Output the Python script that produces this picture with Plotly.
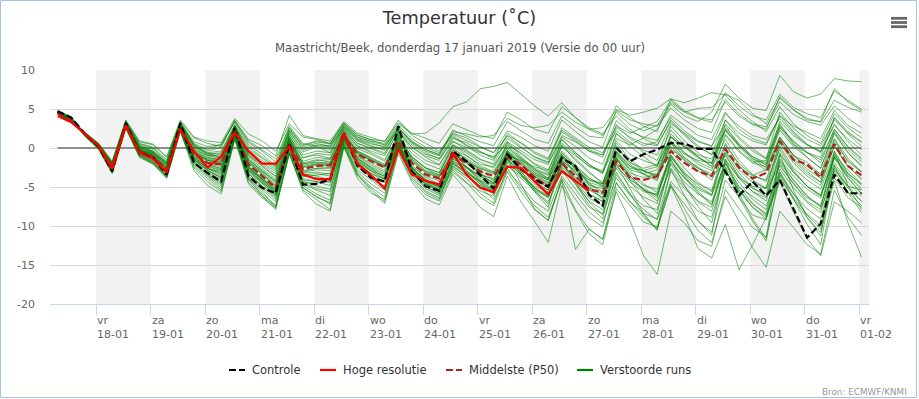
import plotly.graph_objects as go
import pandas as pd

# ---------------- data ----------------
start_time = "2019-01-17 07:00"   # first forecast step (local time)
step = "6h"

controle = [4.7, 3.9, 1.8, 0.2, -3.0, 3.2, -0.6, -1.3, -3.4, 3.2, -1.9, -3.2,
            -4.3, 2.6, -3.6, -5.1, -5.8, 0.5, -4.7, -4.6, -4.0, 2.0, -2.3, -3.8,
            -4.3, 2.8, -3.0, -4.9, -5.5, -0.4, -1.7, -3.4, -5.2, -0.8, -2.7, -4.0,
            -5.0, -1.3, -2.3, -6.0, -7.4, 0.0, -1.7, -0.8, -0.2, 0.65, 0.55, -0.1,
            -0.1, -3.0, -6.1, -4.3, -6.1, -4.1, -7.8, -11.5, -9.7, -3.4, -5.8, -5.8]

hoge_resolutie = [4.1, 3.3, 1.8, 0.3, -2.7, 2.9, -0.6, -1.4, -3.1, 2.4, -0.4, -2.5,
                  -1.1, 2.0, -0.4, -2.0, -2.0, 0.2, -3.4, -4.0, -4.0, 1.9, -2.0, -3.5,
                  -5.2, -0.1, -3.4, -4.2, -4.7, -0.6, -3.4, -5.1, -5.65, -2.4, -2.55, -4.25,
                  -5.95, -2.95, -4.25, -5.5]

middelste = [4.5, 3.6, 1.8, 0.2, -2.3, 2.9, -0.4, -1.1, -2.8, 2.6, -0.8, -1.9,
             -2.1, 1.9, -2.1, -3.6, -5.1, 0.6, -2.7, -2.3, -2.2, 1.5, -0.8, -1.7,
             -2.5, 0.9, -1.9, -3.4, -3.9, -1.0, -1.9, -3.0, -3.6, -1.2, -2.1, -3.8,
             -4.9, -1.9, -3.6, -5.3, -5.7, -1.7, -3.8, -4.1, -3.6, -0.4, -1.9, -3.0,
             -3.6, -0.1, -2.5, -3.9, -3.2, 0.9, -1.5, -2.1, -3.8, 0.5, -2.3, -3.5]

verstoorde_runs = [
    [4.6,3.8,1.7,0.3, -2.9,3.1,-0.3,-1.0, -3.1,3.0,-1.2,-2.6, -3.5,2.4,-2.9,-4.4, -5.6,0.9,-3.6,-3.5, -3.2,1.8,-1.6,-2.9, -3.6,1.9,-2.5,-4.2, -4.9,-0.3,-1.5,-2.8, -4.1,-0.5,-2.2,-3.6, -4.5,-1.0,-2.4,-4.6, -5.8,-0.9,-2.6,-2.9, -2.4,0.8,-0.6,-1.8, -2.6,-0.9,-3.8,-4.9, -5.2,-2.3,-4.6,-6.8, -7.9,-2.8,-4.9,-5.4],
    [4.4,3.5,1.9,0.4, -2.0,3.3,0.2,-0.6, -2.1,3.1,0.4,-0.7, -1.2,2.8,-0.9,-2.3, -3.6,1.6,-1.2,-0.9, -1.3,2.3,0.3,-0.4, -1.0,2.1,-0.3,-1.6, -2.2,0.8,0.1,-0.6, -1.1,1.6,0.7,-0.5, -1.3,2.1,0.9,-0.4, -1.2,3.0,1.2,0.3, 0.8,4.2,2.9,1.6, 1.1,4.6,2.4,1.2, 0.6,4.1,2.8,2.0, 1.2,4.8,2.9,1.9],
    [4.7,3.9,1.5,-0.2, -3.2,2.6,-0.9,-1.8, -3.7,2.3,-1.7,-3.4, -4.6,1.4,-3.8,-5.4, -6.9,-0.2,-4.8,-5.9, -6.7,0.6,-3.1,-4.6, -5.8,0.1,-3.6,-5.5, -6.4,-2.1,-3.3,-5.0, -6.6,-2.9,-4.8,-6.9, -8.1,-3.6,-5.9,-8.2, -9.6,-4.4,-6.8,-8.9, -10.3,-4.9,-7.2,-9.4, -10.8,-4.1,-6.3,-8.6, -9.2,-2.7,-5.1,-7.0, -8.3,-2.2,-4.9,-6.8],
    [4.3,3.4,2.0,0.6, -1.8,3.5,0.8,0.4, -1.2,3.4,1.3,0.6, 0.2,3.6,0.9,-0.3, -1.4,2.8,0.6,0.2, -0.6,2.9,1.4,0.9, 0.6,3.1,1.8,1.9, 3.2,5.3,5.9,7.6, 7.9,8.4,6.9,5.4, 4.1,5.8,3.9,2.4, 1.6,4.6,3.0,2.2, 2.9,5.8,4.6,3.8, 3.3,7.1,5.4,4.1, 3.6,6.9,5.2,4.4, 3.9,7.3,6.1,5.0],
    [4.5,3.7,1.6,0.0, -2.6,2.8,-0.6,-1.5, -3.3,2.4,-1.4,-2.9, -3.8,1.6,-2.8,-4.3, -6.0,0.3,-3.9,-4.4, -4.8,1.0,-2.0,-3.2, -4.4,0.4,-2.9,-4.6, -5.6,-2.6,-3.9,-5.8, -7.1,-2.6,-5.2,-7.4, -8.9,-4.2,-7.9,-10.4, -11.7,-5.6,-9.3,-13.8, -16.2,-8.1,-9.6,-11.9, -12.6,-5.3,-7.8,-10.2, -11.4,-3.9,-6.4,-8.5, -9.9,-3.0,-5.6,-7.4],
    [4.6,3.6,1.8,0.2, -2.4,3.0,-0.2,-0.8, -2.5,2.9,-0.3,-1.2, -1.6,2.5,-1.4,-2.8, -4.2,1.3,-2.1,-1.6, -1.5,2.1,-0.1,-0.8, -1.7,1.5,-1.2,-2.6, -3.1,-0.2,-1.0,-2.1, -2.4,0.4,-0.6,-2.0, -2.8,0.6,-0.8,-2.4, -3.1,1.2,0.4,1.3, 2.4,5.6,4.1,3.4, 4.6,8.2,6.4,5.1, 4.8,9.3,7.2,6.4, 6.9,8.9,8.6,8.5],
    [4.8,4.0,1.9,0.1, -3.1,2.7,-1.0,-1.9, -3.8,2.2,-2.2,-3.6, -5.1,1.5,-4.1,-5.9, -7.3,-0.6,-5.4,-6.6, -7.9,0.2,-3.6,-5.2, -6.9,-0.4,-4.1,-6.0, -6.8,-3.1,-4.5,-5.5, -6.2,-2.2,-3.9,-5.4, -6.3,-1.7,-2.9,-4.1, -4.8,-0.5,-2.3,-3.4, -4.0,0.6,-1.5,-2.9, -4.1,-0.6,-3.2,-5.1, -6.2,-1.4,-3.6,-5.3, -6.4,-0.9,-2.8,-4.6],
    [4.4,3.6,1.7,0.3, -2.2,3.2,-0.1,-0.7, -2.3,2.7,-0.6,-1.6, -1.9,2.2,-1.8,-3.1, -4.6,1.1,-2.4,-2.0, -2.1,1.7,-0.7,-1.5, -2.4,1.1,-1.4,-2.9, -3.4,0.4,-0.4,-1.5, -2.0,1.2,0.1,-1.1, -1.8,2.3,1.1,-0.2, -0.9,3.5,2.1,1.4, 1.0,3.9,2.2,0.9, 0.3,2.9,0.4,-1.3, -2.6,1.4,-0.9,-2.7, -3.9,0.8,-1.6,-3.0],
    [4.6,3.8,1.6,0.0, -2.8,2.9,-0.7,-1.4, -3.2,2.5,-1.5,-2.7, -3.0,2.0,-2.6,-4.0, -5.3,0.7,-3.1,-2.8, -2.9,1.3,-1.3,-2.4, -3.3,0.6,-2.6,-4.3, -5.1,-1.6,-2.9,-4.4, -5.3,-1.8,-3.4,-5.6, -6.9,-2.9,-5.3,-7.6, -8.4,-3.8,-6.1,-7.9, -9.2,-4.6,-7.8,-10.6, -12.1,-6.2,-9.4,-12.8, -15.3,-8.1,-10.2,-12.4, -13.6,-5.4,-8.9,-11.2],
    [4.5,3.5,1.8,0.4, -2.5,2.8,-0.5,-1.2, -2.9,2.6,-0.9,-2.0, -2.4,1.8,-2.4,-3.9, -5.4,0.4,-3.0,-2.6, -2.5,1.4,-1.0,-2.0, -2.9,0.7,-2.2,-3.8, -4.6,-1.4,-2.5,-3.9, -4.8,-1.5,-3.0,-5.1, -6.4,-2.6,-4.6,-6.8, -7.9,-3.1,-5.8,-8.6, -10.4,-4.9,-8.6,-12.9, -14.1,-9.8,-15.6,-12.4, -8.9,-3.4,-5.9,-7.8, -9.1,-2.6,-5.1,-6.9],
    [4.3,3.4,1.9,0.5, -1.9,3.4,0.5,0.0, -1.7,3.2,0.6,-0.2, 0.5,3.3,0.4,-0.8, -2.3,2.5,0.1,0.6, 0.2,2.7,1.0,0.3, -0.2,2.5,0.8,-0.4, -1.0,1.9,1.3,0.2, -0.6,2.2,1.4,0.3, -0.4,3.6,2.1,0.8, 0.1,4.8,3.6,3.1, 2.8,5.1,3.6,2.5, 2.0,6.2,4.4,3.1, 2.7,5.9,4.3,3.4, 2.9,5.4,3.8,2.6],
    [4.5,3.6,1.8,0.2, -2.4,2.9,-0.4,-1.1, -2.7,2.7,-0.7,-1.8, -2.2,1.9,-2.0,-3.4, -5.0,0.8,-2.5,-2.2, -2.3,1.6,-0.7,-1.6, -2.6,0.9,-1.8,-3.2, -3.8,-0.8,-1.7,-2.7, -3.3,-0.8,-1.8,-3.4, -4.4,-1.3,-3.1,-4.8, -5.2,-1.1,-3.2,-3.8, -3.3,0.2,-1.6,-2.6, -3.3,0.4,-2.0,-3.5, -2.8,1.4,-1.0,-1.8, -3.4,1.1,-1.8,-3.1],
    [4.7,3.8,1.5,-0.1, -3.3,2.5,-1.2,-2.1, -3.9,2.1,-2.4,-3.9, -5.4,1.2,-3.9,-5.6, -7.6,-0.8,-5.1,-6.2, -7.2,0.5,-3.3,-5.5, -7.1,-0.7,-4.4,-6.5, -7.3,-3.4,-5.4,-7.6, -8.8,-3.6,-6.9,-9.4, -12.1,-4.8,-8.1,-11.0, -12.4,-5.2,-7.3,-9.5, -10.1,-4.3,-6.2,-8.1, -8.9,-2.9,-5.4,-7.2, -8.4,-1.8,-4.2,-6.1, -7.5,-1.9,-4.4,-6.2],
    [4.4,3.5,1.7,0.2, -2.3,3.1,-0.2,-0.9, -2.6,2.8,-0.5,-1.4, -1.5,2.3,-1.6,-3.0, -4.3,1.2,-1.9,-1.5, -1.8,1.9,-0.4,-1.2, -2.1,1.3,-1.2,-2.6, -3.5,-0.6,-2.3,-4.1, -5.4,-1.3,-4.6,-7.8, -9.3,-4.1,-13.0,-10.4, -11.7,-4.5,-6.9,-8.4, -9.1,-3.0,-5.2,-6.8, -7.6,-1.4,-3.9,-5.6, -6.4,-0.6,-3.1,-4.9, -6.0,-1.2,-3.6,-5.4],
    [4.6,3.7,1.8,0.3, -2.6,3.0,-0.3,-1.0, -2.8,2.8,-0.8,-2.0, -2.7,2.1,-2.3,-3.8, -5.2,0.5,-2.9,-2.6, -2.6,1.3,-1.1,-2.2, -3.1,0.3,-2.4,-3.6, -4.2,-1.7,-2.6,-3.5, -3.9,-0.9,-1.6,-2.4, -2.9,1.4,0.2,-1.3, -2.1,2.6,1.4,0.6, 0.3,3.4,1.6,0.1, -0.8,3.6,1.9,0.9, 0.4,4.2,2.1,0.5, -0.6,3.1,0.8,-0.9],
    [4.5,3.6,1.7,0.1, -2.7,2.7,-0.6,-1.3, -3.0,2.4,-1.2,-2.4, -2.9,1.7,-2.7,-4.2, -5.8,0.2,-3.4,-3.3, -3.6,1.1,-1.5,-2.7, -3.7,0.2,-2.8,-4.5, -5.3,-2.0,-3.1,-4.2, -4.6,-2.3,-3.6,-4.9, -5.6,-2.2,-3.8,-5.4, -6.3,-2.4,-4.1,-5.2, -6.1,-1.6,-3.9,-5.6, -7.2,-2.4,-5.3,-7.6, -9.1,-3.6,-6.6,-8.9, -10.8,-4.2,-9.6,-14.0],
    [4.4,3.6,1.9,0.4, -2.1,3.2,0.1,-0.5, -2.0,3.0,0.1,-0.9, -1.1,2.9,-0.8,-2.1, -3.3,1.9,-0.9,-0.4, -0.6,2.5,0.6,-0.1, -0.8,2.0,0.1,-1.0, -1.6,1.2,0.7,-0.4, -1.4,0.8,-0.3,-1.5, -2.1,1.6,0.8,-0.4, -0.9,2.8,1.9,2.6, 3.4,6.1,4.6,5.1, 5.2,6.9,6.1,4.4, 3.1,6.4,4.9,3.6, 3.4,7.6,5.9,4.8],
    [4.6,3.7,1.6,0.1, -2.8,2.8,-0.7,-1.6, -3.4,2.4,-1.8,-3.1, -4.1,1.6,-3.3,-4.8, -6.4,0.1,-4.2,-4.9, -5.3,0.8,-2.4,-3.7, -4.9,0.2,-3.1,-4.9, -5.9,-2.3,-3.6,-4.8, -5.5,-1.9,-3.4,-5.1, -6.1,-2.4,-4.3,-6.4, -7.4,-2.6,-4.9,-6.3, -7.1,-2.1,-4.4,-5.9, -6.9,-1.6,-3.8,-5.6, -6.8,-0.9,-3.1,-4.9, -6.2,-1.3,-3.9,-5.8],
    [4.5,3.5,1.8,0.3, -2.2,3.1,0.0,-0.6, -2.2,2.9,-0.2,-1.0, -0.9,2.6,-0.6,-1.9, -3.0,1.8,-0.5,0.1, -0.2,2.6,0.9,0.2, -0.3,2.3,0.4,-0.8, -1.3,1.4,0.3,-0.9, -1.6,1.9,0.6,-0.7, -1.5,2.6,1.3,0.1, -0.6,2.2,0.8,-0.6, -1.6,2.3,0.4,-1.1, -2.3,3.1,1.2,-0.4, -1.4,4.6,2.5,1.1, 0.3,3.6,1.9,0.7],
    [4.7,3.9,1.7,0.0, -3.0,2.6,-1.1,-2.0, -3.6,2.3,-2.6,-4.3, -5.6,1.3,-4.4,-6.2, -7.5,-0.4,-4.5,-5.2, -5.6,1.1,-2.2,-3.9, -5.1,0.5,-2.9,-4.3, -5.0,-1.2,-2.4,-3.7, -4.5,-0.6,-2.0,-3.6, -4.8,-0.9,-2.8,-4.5, -5.6,-0.4,-2.1,-3.3, -4.2,0.9,-1.2,-2.6, -3.7,1.6,-0.5,-1.9, -2.4,2.3,0.2,-1.2, -2.6,2.1,-0.2,-1.8],
    [4.4,3.4,1.9,0.5, -2.0,3.4,0.4,-0.2, -1.8,3.3,0.5,-0.4, 0.1,3.5,1.1,0.3, -1.0,4.2,1.6,1.2, 0.9,3.4,1.9,1.3, 0.8,3.6,1.6,0.6, -0.4,1.8,0.9,0.1, -0.6,1.5,0.2,-1.2, -1.9,1.1,-0.6,-2.1, -3.2,0.6,-1.4,-2.9, -3.8,1.5,-0.6,-2.1, -2.9,2.6,0.6,-1.1, -2.2,2.9,0.8,-0.6, -1.9,2.4,0.1,-1.5],
    [4.6,3.7,1.7,0.2, -2.5,2.9,-0.4,-1.2, -2.9,2.6,-1.0,-2.2, -2.6,1.9,-2.4,-4.1, -5.7,0.6,-3.3,-3.6, -4.1,1.5,-1.3,-2.6, -3.9,0.7,-2.6,-4.4, -5.4,-1.1,-2.8,-4.6, -6.0,-0.3,-2.9,-5.4, -7.2,-1.8,-4.6,-7.3, -9.1,-2.0,-5.2,-8.4, -10.6,-2.7,-6.1,-9.3, -11.2,-1.4,-5.8,-9.1, -11.6,-0.8,-5.4,-8.9, -11.3,-0.4,-4.8,-7.9],
    [4.5,3.7,1.8,0.2, -2.4,3.0,-0.2,-0.8, -2.4,2.8,-0.4,-1.3, -1.3,2.4,-1.2,-2.6, -4.0,1.4,-1.7,-1.2, -1.4,2.2,0.2,-0.6, -1.5,1.7,-0.7,-2.0, -2.7,0.3,-0.9,-2.3, -3.0,-0.1,-1.4,-2.9, -3.9,-0.6,-2.4,-3.9, -4.6,0.3,-1.8,-3.0, -3.4,1.8,0.1,-1.3, -2.0,2.3,0.2,-1.6, -2.9,1.1,-1.3,-3.0, -4.4,0.2,-2.4,-3.9],
    [4.6,3.8,1.7,0.1, -2.7,2.8,-0.5,-1.3, -3.1,2.5,-1.3,-2.5, -3.2,1.8,-2.9,-4.5, -6.1,0.2,-3.6,-3.8, -4.2,1.0,-1.7,-2.9, -4.0,0.3,-3.0,-4.7, -5.5,-1.9,-3.2,-4.3, -4.9,-1.4,-2.8,-4.2, -5.0,-1.5,-3.3,-5.1, -6.0,-1.3,-3.4,-4.8, -5.3,-0.9,-3.1,-4.8, -6.0,-2.1,-4.9,-7.1, -8.6,-4.3,-8.2,-11.6, -13.8,-6.9,-8.1,-9.6],
    [4.4,3.5,1.8,0.4, -2.1,3.3,0.3,-0.4, -1.9,3.1,0.2,-0.8, -0.6,2.9,-0.2,-1.3, -2.6,2.1,-0.1,0.4, 0.3,2.9,1.2,0.6, 0.1,2.7,0.9,-0.2, -0.8,2.3,1.6,0.8, 0.3,3.4,2.2,1.1, 0.6,4.1,2.7,1.5, 1.3,5.4,3.9,2.8, 2.1,6.3,4.8,3.9, 3.6,5.9,4.1,3.0, 2.4,6.6,4.9,3.8, 3.3,6.1,5.2,4.6],
    [4.6,3.7,1.7,0.2, -2.8,3.0,-0.5,-1.3, -3.2,2.8,-1.5,-2.8, -3.7,2.2,-3.1,-4.6, -5.9,0.3,-4.1,-4.3, -4.0,1.6,-1.9,-3.3, -4.0,1.7,-2.5,-4.1, -4.8,-0.7,-1.9,-3.2, -4.6,-0.9,-2.4,-3.9, -4.7,-1.2,-2.2,-4.8, -6.6,-0.6,-2.4,-2.9, -3.6,-0.2,-1.3,-2.4, -3.6,-1.9,-5.1,-6.2, -7.4,-3.1,-5.9,-8.6, -10.4,-3.8,-6.4,-7.6],
    [4.3,3.3,2.0,0.6, -1.7,3.6,0.9,0.5, -1.1,3.6,1.4,0.9, 0.7,3.8,1.8,0.9, -0.4,3.1,1.4,1.1, 0.6,3.2,1.7,1.1, 0.4,2.9,1.2,0.1, -0.6,1.6,0.4,-0.5, -1.2,0.6,-0.8,-2.1, -3.2,0.4,-1.6,-3.2, -4.4,-0.8,-2.9,-4.6, -5.7,-1.1,-3.4,-5.1, -6.0,-0.3,-2.8,-4.4, -5.1,0.6,-1.9,-3.6, -4.8,0.3,-2.3,-4.1],
    [4.5,3.6,1.8,0.3, -2.3,3.1,-0.1,-0.7, -2.2,2.9,-0.1,-1.0, -1.3,2.7,-1.0,-2.4, -3.7,1.5,-1.3,-0.7, -0.9,2.4,0.6,0.0, -0.6,2.5,0.7,-0.2, -0.9,2.1,1.8,1.4, 1.6,3.8,2.9,2.6, 2.9,4.6,3.3,2.4, 2.6,4.9,4.2,4.6, 5.1,6.3,5.8,6.4, 7.1,6.8,4.9,3.4, 2.1,5.3,3.1,1.6, 0.6,4.4,2.6,1.3],
    [4.7,3.9,1.6,0.0, -3.1,2.7,-0.8,-1.7, -3.5,2.3,-1.9,-3.3, -4.4,1.5,-3.6,-5.1, -6.6,-0.1,-4.6,-5.4, -6.1,0.7,-2.8,-4.1, -5.4,0.0,-3.4,-5.2, -6.1,-2.8,-4.4,-6.3, -7.4,-3.1,-5.6,-7.9, -9.3,-3.9,-6.6,-8.9, -10.1,-3.4,-5.9,-7.4, -7.9,-1.9,-3.8,-5.3, -6.1,-0.6,-2.4,-3.6, -4.1,1.3,-0.9,-2.4, -3.3,1.8,-0.6,-2.2],
    [4.5,3.6,1.8,0.3, -2.3,3.0,-0.3,-1.0, -2.6,2.7,-0.6,-1.6, -1.8,2.1,-1.7,-3.2, -4.8,1.0,-2.2,-1.9, -1.9,1.8,-0.5,-1.4, -2.3,1.2,-1.5,-3.0, -3.6,-0.5,-1.3,-2.5, -3.1,-0.4,-1.5,-3.1, -4.0,-0.8,-2.7,-4.4, -5.0,-0.6,-2.8,-3.3, -2.8,0.6,-0.8,-1.6, -1.9,1.8,-0.3,-1.8, -1.6,2.7,0.4,-0.6, -1.5,2.4,0.2,-1.3],
    [4.6,3.7,1.7,0.2, -2.5,2.9,-0.5,-1.2, -2.8,2.6,-1.1,-2.3, -2.8,1.8,-2.5,-4.0, -5.5,0.5,-3.2,-3.1, -3.4,1.2,-1.4,-2.5, -3.5,0.5,-2.6,-4.1, -4.8,-1.4,-2.4,-3.6, -4.4,-1.2,-2.6,-4.3, -5.4,-2.0,-3.9,-5.9, -6.8,-2.1,-4.4,-5.6, -5.9,-1.2,-3.3,-4.6, -5.4,-0.9,-3.6,-5.2, -5.9,0.2,-2.6,-4.1, -5.3,-0.4,-3.2,-4.8],
    [4.4,3.5,1.9,0.4, -2.0,3.3,0.2,-0.4, -1.9,3.1,0.3,-0.6, -0.4,3.0,0.1,-1.1, -2.4,2.3,0.3,0.8, 0.5,3.1,1.4,0.8, 0.4,2.2,0.1,-1.2, -2.1,0.4,-0.6,-1.8, -2.6,0.1,-1.3,-2.8, -3.5,0.2,-1.0,-2.3, -2.9,1.8,0.6,-0.3, -0.9,3.1,1.9,0.8, 0.2,4.4,2.8,1.6, 1.1,3.8,1.9,0.4, -0.5,2.9,1.1,-0.2],
    [4.5,3.6,1.7,0.1, -2.6,2.8,-0.6,-1.4, -3.1,2.5,-1.3,-2.6, -3.3,1.8,-2.6,-4.1, -5.6,0.4,-3.5,-3.9, -4.4,1.2,-1.8,-3.0, -4.1,0.6,-2.5,-4.0, -5.0,-0.6,-2.4,-4.3, -5.8,-0.7,-3.3,-5.6, -7.6,-1.6,-4.4,-6.9, -8.6,-1.2,-4.1,-6.6, -8.4,-1.4,-4.8,-7.5, -9.6,-2.6,-6.3,-9.4, -11.9,-3.1,-6.5,-9.8, -12.4,-2.3,-5.7,-8.3],
    [4.4,3.5,1.8,0.4, -2.1,3.2,0.2,-0.5, -2.0,3.1,0.3,-0.7, -0.8,2.8,-0.4,-1.6, -2.8,2.2,-0.3,0.3, 0.1,2.8,1.1,0.5, 0.2,2.6,0.6,-0.6, -1.4,0.9,-0.3,-1.4, -2.2,0.3,-1.2,-2.6, -3.4,-0.4,-2.2,-3.8, -4.9,-1.4,-3.6,-5.4, -6.8,-2.6,-4.9,-6.9, -8.1,-2.9,-5.6,-7.6, -8.8,-2.1,-4.6,-6.4, -7.3,-1.1,-3.4,-5.2],
    [4.6,3.8,1.7,0.2, -2.9,3.1,-0.5,-1.2, -3.3,3.0,-1.6,-2.9, -3.9,2.5,-3.3,-4.9, -6.2,0.4,-4.4,-4.5, -4.3,1.9,-2.1,-3.6, -4.4,2.2,-2.8,-4.6, -5.3,-0.6,-1.9,-3.2, -4.6,-0.3,-2.0,-3.4, -4.1,0.2,-1.4,-3.1, -4.6,0.9,-0.8,-1.6, -2.2,1.4,0.1,-1.2, -2.4,1.1,-1.6,-3.4, -4.3,-0.2,-2.9,-4.9, -6.1,-0.7,-3.3,-4.6],
    [4.5,3.6,1.8,0.3, -2.4,3.0,-0.2,-0.9, -2.5,2.8,-0.5,-1.5, -1.7,2.3,-1.5,-2.9, -4.4,1.2,-2.0,-1.8, -2.0,1.9,-0.4,-1.3, -2.2,1.4,-1.1,-2.5, -3.2,0.1,-1.6,-3.2, -4.2,0.8,-1.1,-2.7, -3.9,1.1,-0.6,-2.1, -3.3,1.9,0.2,-1.1, -2.4,2.8,0.9,-0.6, -1.9,3.6,1.4,-0.1, -1.3,3.1,0.6,-1.2, -2.6,2.0,-0.6,-2.4],
    [4.7,3.9,1.6,0.0, -3.0,2.6,-1.0,-2.0, -3.7,2.2,-2.9,-4.8, -5.9,1.1,-4.6,-6.4, -7.7,-0.5,-5.1,-6.3, -7.0,0.3,-3.4,-5.0, -6.3,-0.2,-3.8,-5.7, -6.6,-2.4,-3.6,-4.9, -5.8,-1.6,-3.1,-4.6, -5.4,-1.1,-3.2,-5.2, -6.4,-1.5,-3.6,-5.3, -6.4,-0.4,-2.6,-4.4, -5.6,0.6,-2.2,-4.1, -5.2,0.9,-1.6,-3.3, -4.4,1.2,-1.3,-3.1],
    [4.4,3.4,1.9,0.5, -1.9,3.4,0.6,0.1, -1.5,3.3,0.8,0.2, 0.4,3.4,0.7,-0.4, -1.8,2.6,0.4,0.9, 0.6,3.2,1.6,1.1, 0.9,3.3,1.9,1.2, 0.6,3.1,2.4,1.6, 1.2,4.6,3.6,2.4, 1.9,5.3,3.9,2.6, 1.8,4.1,2.4,1.2, 0.4,3.6,1.8,0.3, -0.9,2.4,0.4,-1.4, -2.1,2.6,0.9,-0.6, -1.2,3.9,2.1,0.8],
    [4.6,3.8,1.6,0.0, -2.9,2.7,-0.9,-1.8, -3.6,2.3,-2.0,-3.5, -4.8,1.4,-4.0,-6.1, -7.9,-0.7,-5.6,-7.2, -8.1,0.1,-3.9,-5.8, -6.6,0.2,-3.2,-5.0, -5.8,-1.8,-3.1,-4.6, -5.4,-1.4,-3.3,-5.2, -6.2,-2.1,-4.1,-5.9, -6.9,-1.8,-3.9,-5.4, -6.1,-0.9,-3.6,-5.8, -7.3,-1.9,-4.4,-6.6, -7.9,-1.6,-4.1,-6.2, -7.6,-1.1,-3.8,-5.9],
    [4.5,3.6,1.7,0.2, -2.4,2.9,-0.3,-1.0, -2.6,2.7,-0.6,-1.6, -2.0,2.0,-1.9,-3.3, -4.9,0.9,-2.4,-2.1, -2.2,1.7,-0.6,-1.5, -2.4,1.0,-1.6,-3.1, -3.7,-0.7,-1.6,-2.6, -3.2,-0.6,-1.7,-3.2, -4.1,-0.9,-2.6,-4.1, -4.6,0.1,-1.9,-2.6, -2.1,1.4,0.2,-0.9, -1.4,2.2,0.3,-1.1, -1.9,3.4,1.6,0.4, -0.4,3.9,1.8,0.2],
]

day_ticks = ["2019-01-18", "2019-01-19", "2019-01-20", "2019-01-21", "2019-01-22",
             "2019-01-23", "2019-01-24", "2019-01-25", "2019-01-26", "2019-01-27",
             "2019-01-28", "2019-01-29", "2019-01-30", "2019-01-31", "2019-02-01"]
day_names = ["vr", "za", "zo", "ma", "di", "wo", "do", "vr", "za", "zo", "ma", "di", "wo", "do", "vr"]
day_labels = ["18-01", "19-01", "20-01", "21-01", "22-01", "23-01", "24-01", "25-01",
              "26-01", "27-01", "28-01", "29-01", "30-01", "31-01", "01-02"]
y_ticks = [-20, -15, -10, -5, 0, 5, 10]
y_tick_labels = ["-20", "-15", "-10", "-5", "0", "5", "10"]
legend_names = ["Controle", "Hoge resolutie", "Middelste (P50)", "Verstoorde runs"]

title_text = "Temperatuur (˚C)"
subtitle_text = "Maastricht/Beek, donderdag 17 januari 2019 (Versie do 00 uur)"
source_text = "Bron: ECMWF/KNMI"

# ---------------- layout geometry ----------------
W, H = 919, 399
ML, MR, MT, MB = 50, 50, 70, 95
PW, PH = W - ML - MR, H - MT - MB
x_range = ["2019-01-17 03:37", "2019-02-01 04:16"]
FONT = "DejaVu Sans"


def fx(px):
    return (px - ML) / PW


def fy(py):
    return (H - MB - py) / PH


times = pd.date_range(start_time, periods=len(controle), freq=step)

GREEN = "rgba(0,128,0,0.55)"
BLACK = "#000000"
RED = "#ff0000"
BROWN = "#b22222"
DASH = "7px,3px"

fig = go.Figure()

# zero reference line over data span
fig.add_trace(go.Scatter(x=[times[0], times[-1]], y=[0, 0], mode="lines",
                         line=dict(color="#8f8f8f", width=2), hoverinfo="skip",
                         showlegend=False))

for run in verstoorde_runs:
    fig.add_trace(go.Scatter(x=times[:len(run)], y=run, mode="lines",
                             line=dict(color=GREEN, width=1), hoverinfo="skip",
                             showlegend=False))

fig.add_trace(go.Scatter(x=times, y=middelste, mode="lines", name=legend_names[2],
                         line=dict(color=BROWN, width=2.2, dash=DASH), showlegend=False))
fig.add_trace(go.Scatter(x=times, y=controle, mode="lines", name=legend_names[0],
                         line=dict(color=BLACK, width=2.2, dash=DASH), showlegend=False))
fig.add_trace(go.Scatter(x=times[:len(hoge_resolutie)], y=hoge_resolutie, mode="lines",
                         name=legend_names[1], line=dict(color=RED, width=2.2),
                         showlegend=False))

shapes = []
# alternating day bands
for i in range(0, len(day_ticks), 2):
    x0 = day_ticks[i]
    x1 = day_ticks[i + 1] if i + 1 < len(day_ticks) else "2019-02-02"
    shapes.append(dict(type="rect", xref="x", yref="paper", x0=x0, x1=x1, y0=0, y1=1,
                       fillcolor="#f2f2f2", line=dict(width=0), layer="below"))

annotations = []
for d, n, lab in zip(day_ticks, day_names, day_labels):
    annotations.append(dict(x=d, y=0, xref="x", yref="paper", xanchor="left", yanchor="top",
                            yshift=-8, xshift=-1, text=f"{n}<br>{lab}", showarrow=False,
                            align="left", font=dict(family=FONT, size=11, color="#666666")))

annotations.append(dict(x=0.5, y=fy(47.7), xref="paper", yref="paper", xanchor="center",
                        yanchor="middle", text=subtitle_text, showarrow=False,
                        font=dict(family=FONT, size=11.7, color="#555555")))
annotations.append(dict(x=fx(909), y=fy(392), xref="paper", yref="paper", xanchor="right",
                        yanchor="middle", text=source_text, showarrow=False,
                        font=dict(family=FONT, size=8.8, color="#999999")))

# custom legend
legend_styles = [dict(color=BLACK, width=2.2, dash=DASH), dict(color=RED, width=2.2),
                 dict(color=BROWN, width=2.2, dash=DASH), dict(color="#008000", width=2.2)]
legend_px = [229, 320, 446, 577]
for name, style, px in zip(legend_names, legend_styles, legend_px):
    shapes.append(dict(type="line", xref="paper", yref="paper", x0=fx(px), x1=fx(px + 16),
                       y0=fy(370), y1=fy(370), line=style))
    annotations.append(dict(x=fx(px + 21), y=fy(370), xref="paper", yref="paper",
                            xanchor="left", yanchor="middle", text=name, showarrow=False,
                            font=dict(family=FONT, size=11.5, color="#333333")))

# hamburger menu icon
for py in (18.3, 22.5, 26.7):
    shapes.append(dict(type="line", xref="paper", yref="paper", x0=fx(891), x1=fx(907),
                       y0=fy(py), y1=fy(py), line=dict(color="#666666", width=2.8)))

# outer border
shapes.append(dict(type="rect", xref="paper", yref="paper", x0=fx(0.5), x1=fx(916.5),
                   y0=fy(397.5), y1=fy(0.5), line=dict(color="#a3c2ee", width=1)))

fig.update_layout(
    width=W, height=H, autosize=False,
    margin=dict(l=ML, r=MR, t=MT, b=MB, pad=0),
    paper_bgcolor="white", plot_bgcolor="white",
    font=dict(family=FONT, color="#666666"),
    title=dict(text=title_text, x=0.5, xanchor="center", y=1 - 18.3 / H, yanchor="middle",
               font=dict(family=FONT, size=17.7, color="#333333")),
    showlegend=False,
    xaxis=dict(type="date", range=x_range, tickvals=day_ticks, showticklabels=False,
               ticks="outside", ticklen=10, tickcolor="#ccd6eb", tickwidth=1,
               showline=True, linecolor="#ccd6eb", linewidth=1, showgrid=False,
               zeroline=False, fixedrange=True),
    yaxis=dict(range=[-20, 10], tickvals=y_ticks, ticktext=y_tick_labels, showgrid=True,
               gridcolor="#d9d9d9", gridwidth=1, zeroline=False, ticks="",
               ticklabelstandoff=14, tickfont=dict(family=FONT, size=11, color="#666666"),
               fixedrange=True),
    yaxis2=dict(range=[-20, 10], overlaying="y", side="right", tickvals=y_ticks,
                ticktext=y_tick_labels, showgrid=False, zeroline=False, ticks="",
                ticklabelstandoff=14, tickfont=dict(family=FONT, size=11, color="#666666"),
                fixedrange=True),
    shapes=shapes,
    annotations=annotations,
)

fig.write_html("out.html", config={"displayModeBar": False},
               post_script="document.body.style.margin='0';document.body.style.overflow='hidden';")
